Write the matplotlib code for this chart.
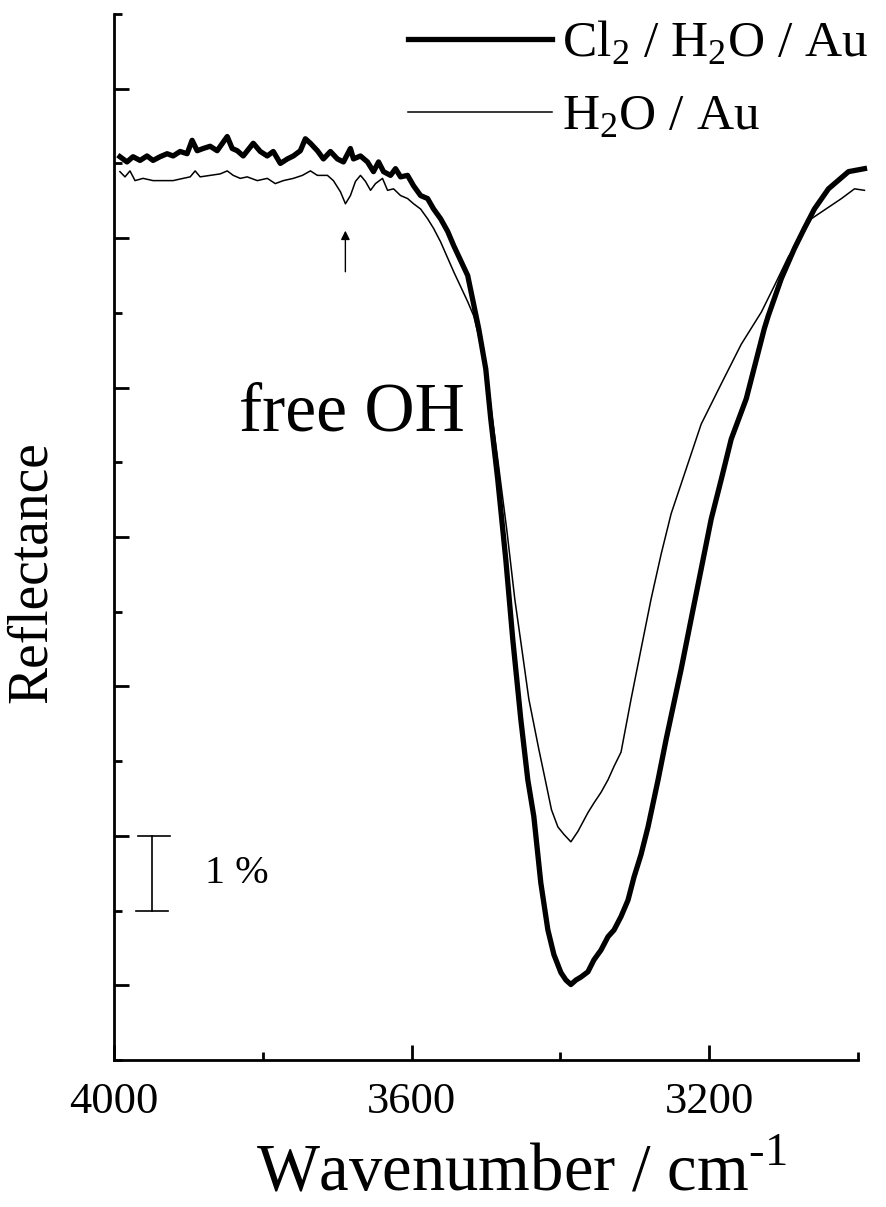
import matplotlib
matplotlib.use('Agg')
import matplotlib.pyplot as plt
from matplotlib.ticker import MultipleLocator

plt.rcParams['font.family'] = ['Liberation Serif', 'DejaVu Serif']
plt.rcParams['mathtext.fontset'] = 'custom'
plt.rcParams['mathtext.rm'] = 'Liberation Serif'

# Cl2 / H2O / Au spectrum (wavenumber in cm-1, reflectance in %)
wn_cl2 = [3992, 3982.5, 3974.4, 3965.0, 3955.6, 3947.5, 3938.0, 3928.6, 3920.5, 3911.1,
          3901.7, 3895.0, 3888.2, 3880.1, 3870.7, 3861.3, 3847.8, 3841.1, 3834.3, 3826.3,
          3812.8, 3803.4, 3794.0, 3785.9, 3776.4, 3767.0, 3758.9, 3749.5, 3742.8, 3736.0,
          3726.6, 3718.5, 3709.1, 3699.7, 3691.6, 3682.2, 3678.1, 3668.7, 3659.3, 3651.2,
          3644.4, 3637.7, 3628.3, 3621.6, 3614.8, 3605.4, 3597.3, 3587.9, 3578.5, 3570.4,
          3561.0, 3551.5, 3543.4, 3524.6, 3509.8, 3500.3, 3493.6, 3484.2, 3473.4, 3464.0,
          3453.2, 3443.8, 3435.7, 3426.3, 3416.8, 3408.7, 3399.3, 3392.6, 3385.9, 3379.1,
          3372.4, 3363.0, 3354.9, 3345.5, 3336.0, 3327.9, 3318.5, 3309.1, 3301.0, 3291.6,
          3282.2, 3268.7, 3257.9, 3237.7, 3224.3, 3210.8, 3197.3, 3183.8, 3170.4, 3150.2,
          3125.9, 3120.6, 3103.0, 3085.5, 3072.1, 3058.6, 3039.7, 3012.8, 2991.3]
r_cl2 = [12.09, 12.02, 12.09, 12.04, 12.10, 12.04, 12.09, 12.13, 12.10, 12.16,
         12.13, 12.31, 12.17, 12.20, 12.23, 12.17, 12.36, 12.20, 12.17, 12.10,
         12.27, 12.16, 12.10, 12.16, 12.00, 12.06, 12.10, 12.17, 12.33, 12.27,
         12.17, 12.06, 12.16, 12.06, 12.02, 12.20, 12.06, 12.10, 12.02, 11.89,
         12.02, 11.89, 11.84, 11.93, 11.82, 11.84, 11.70, 11.57, 11.53, 11.39,
         11.26, 11.09, 10.90, 10.50, 9.79, 9.25, 8.58, 7.77, 6.70, 5.63,
         4.56, 3.75, 3.26, 2.37, 1.74, 1.41, 1.17, 1.07, 1.01, 1.07,
         1.11, 1.18, 1.34, 1.47, 1.65, 1.74, 1.92, 2.14, 2.45, 2.75,
         3.12, 3.75, 4.29, 5.23, 5.90, 6.57, 7.24, 7.77, 8.31, 8.85,
         9.79, 9.96, 10.46, 10.86, 11.13, 11.39, 11.66, 11.89, 11.93]

# H2O / Au spectrum
wn_h2o = [3992, 3985.2, 3978.5, 3971.7, 3960.9, 3947.5, 3934.0, 3920.5, 3907.1, 3897.6,
          3890.9, 3884.2, 3870.7, 3857.2, 3847.8, 3839.7, 3830.3, 3820.9, 3807.4, 3793.9,
          3783.2, 3772.4, 3758.9, 3746.8, 3736.0, 3726.6, 3713.1, 3705.1, 3695.6, 3688.9,
          3682.2, 3675.4, 3668.7, 3662.0, 3655.2, 3648.5, 3639.1, 3632.3, 3624.2, 3614.8,
          3605.4, 3597.3, 3587.9, 3578.5, 3570.4, 3561.0, 3543.4, 3524.6, 3516.5, 3505.7,
          3494.9, 3484.2, 3472.1, 3461.3, 3451.8, 3442.4, 3429.0, 3419.5, 3412.0, 3403.4,
          3395.3, 3385.9, 3376.4, 3363.0, 3354.9, 3345.5, 3336.0, 3327.9, 3318.5, 3305.0,
          3291.6, 3278.1, 3264.6, 3251.2, 3231.0, 3210.8, 3183.8, 3156.9, 3129.9, 3112.5,
          3093.6, 3080.1, 3062.6, 3049.1, 3022.2, 3004.7, 2991.3]
r_h2o = [11.89, 11.82, 11.90, 11.77, 11.80, 11.77, 11.77, 11.77, 11.80, 11.82,
         11.90, 11.82, 11.84, 11.86, 11.90, 11.84, 11.80, 11.82, 11.77, 11.80,
         11.73, 11.77, 11.80, 11.84, 11.90, 11.84, 11.84, 11.77, 11.62, 11.46,
         11.57, 11.76, 11.84, 11.76, 11.64, 11.73, 11.80, 11.64, 11.66, 11.57,
         11.53, 11.46, 11.39, 11.26, 11.13, 10.95, 10.55, 10.15, 9.96, 9.52,
         8.85, 8.04, 7.10, 6.17, 5.50, 4.83, 4.16, 3.71, 3.35, 3.12,
         3.02, 2.92, 3.06, 3.31, 3.44, 3.58, 3.75, 3.93, 4.12, 4.83,
         5.50, 6.17, 6.77, 7.31, 7.91, 8.51, 9.05, 9.58, 10.01, 10.36,
         10.75, 10.95, 11.26, 11.35, 11.53, 11.66, 11.64]

x_major = [4000, 3600, 3200]
x_labels = ['4000', '3600', '3200']

fig = plt.figure(figsize=(8.87, 12.07), dpi=100)
ax = fig.add_axes([0.1285, 0.1218, 0.8388, 0.8666])

ax.plot(wn_cl2, r_cl2, 'k-', lw=3.8, clip_on=False, solid_joinstyle='round',
        label=r'Cl$_2$ / H$_2$O / Au')
ax.plot(wn_h2o, r_h2o, 'k-', lw=1.1, clip_on=False, label=r'H$_2$O / Au')

ax.set_xlim(4000, 3000)
ax.set_ylim(0, 14)

for s in ['top', 'right']:
    ax.spines[s].set_visible(False)
for s in ['left', 'bottom']:
    ax.spines[s].set_linewidth(2.0)

ax.set_xticks(x_major)
ax.set_xticklabels(x_labels)
ax.xaxis.set_minor_locator(MultipleLocator(200))
ax.set_yticks([1, 3, 5, 7, 9, 11, 13])
ax.set_yticklabels([])
ax.yaxis.set_minor_locator(MultipleLocator(1))
ax.tick_params(which='major', direction='in', length=11, width=2.0, labelsize=32, pad=16)
ax.tick_params(which='minor', direction='in', length=6, width=2.0)

ax.set_ylabel('Reflectance', fontsize=40)
ax.yaxis.set_label_coords(-0.076, 0.4665)
ax.set_xlabel(r'Wavenumber / cm$^{\text{-1}}$', fontsize=48)
ax.xaxis.set_label_coords(0.548, -0.080)

# 1 % scale bar
ax.plot([3949, 3949], [2.0, 3.0], 'k-', lw=1.2)
ax.plot([3968, 3925], [3.0, 3.0], 'k-', lw=1.2)
ax.plot([3970, 3927], [2.0, 2.0], 'k-', lw=1.2)
ax.text(3877, 2.5, '1 %', fontsize=29, va='center', ha='left')

# free OH marker
ax.annotate('', xy=(3689, 11.1), xytext=(3689, 10.55),
            arrowprops=dict(arrowstyle='-|>', color='k', lw=1.0,
                            mutation_scale=13, shrinkA=0, shrinkB=0))
ax.text(3680, 8.65, 'free OH', fontsize=50, ha='center', va='center')

ax.legend(loc='upper right', bbox_to_anchor=(0.985, 0.988), bbox_transform=fig.transFigure,
          frameon=False, fontsize=37, handlelength=2.8, handletextpad=0.2,
          labelspacing=0.5, borderpad=0.1, borderaxespad=0)

fig.savefig('out.png', dpi=100)
